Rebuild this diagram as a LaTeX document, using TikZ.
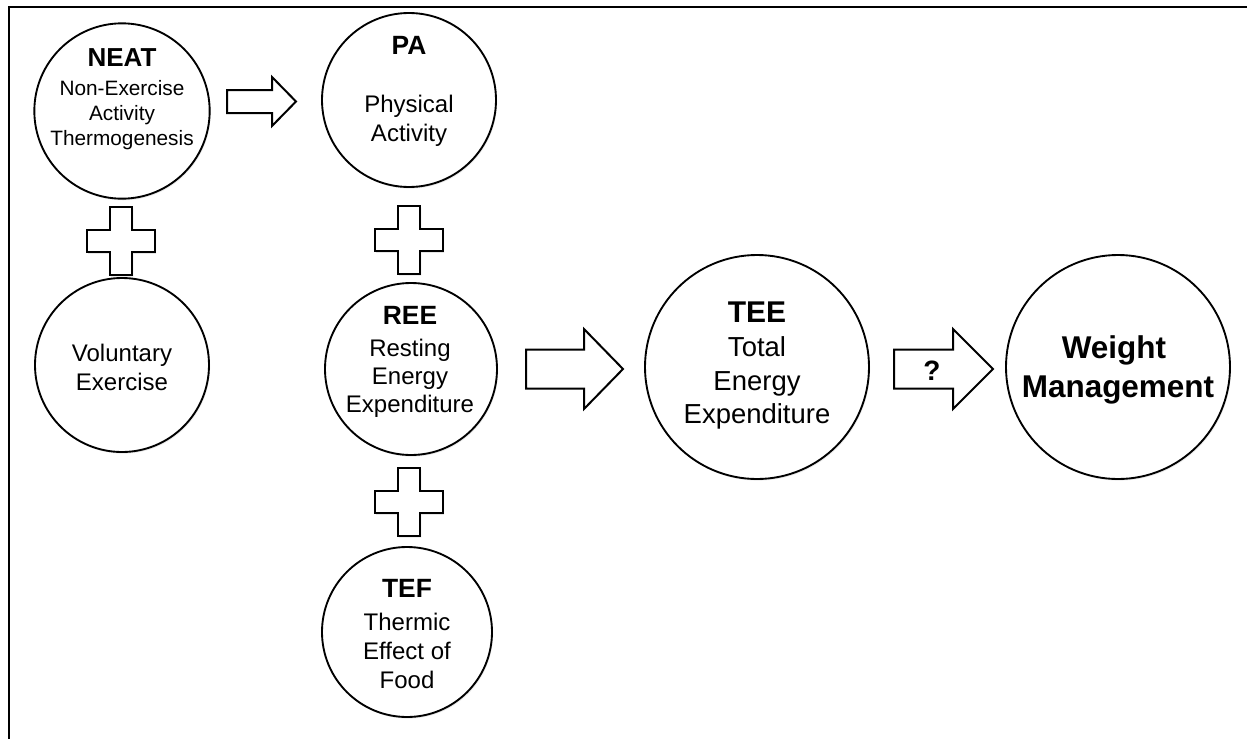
\documentclass[tikz,border=0pt]{standalone}
\usepackage{fontspec}
\setmainfont{Liberation Sans}
\usetikzlibrary{shadows}
\begin{document}
\begin{tikzpicture}[x=0.75pt,y=-0.75pt,
  circ/.style={circle,draw=black,line width=1.4pt,fill=white,inner sep=0pt,
    drop shadow={opacity=0.18,shadow xshift=0.8pt,shadow yshift=-1.2pt}},
  plusshape/.style={draw=black,line width=1.6pt,fill=white,line join=miter,
    drop shadow={opacity=0.2,shadow xshift=0.8pt,shadow yshift=-1.2pt}},
  blockarrow/.style={draw=black,line width=1.5pt,fill=white,line join=miter},
  tl/.style={anchor=base,inner sep=0pt},
  fA/.style={font=\fontsize{19.5pt}{21pt}\selectfont\bfseries},
  fa/.style={font=\fontsize{15.6pt}{18pt}\selectfont},
  fB/.style={font=\fontsize{19.8pt}{22pt}\selectfont\bfseries},
  fb/.style={font=\fontsize{18pt}{21pt}\selectfont},
  fC/.style={font=\fontsize{22.5pt}{25pt}\selectfont\bfseries},
  fc/.style={font=\fontsize{20.6pt}{23pt}\selectfont},
  fD/.style={font=\fontsize{23.6pt}{26pt}\selectfont\bfseries},
  fq/.style={font=\fontsize{21pt}{24pt}\selectfont\bfseries}
]
\useasboundingbox (0,0) rectangle (1247,739);
\fill[white] (0,0) rectangle (1247,739);
% frame
\coordinate (fbl) at (9,739);
\coordinate (ftl) at (9,7);
\coordinate (ftr) at (1247,7);
\draw[line width=1.9pt] (fbl) -- (ftl) -- (ftr);

% circles
\node[circ,minimum size=131.5pt] (neat) at (122,111) {};
\node[circ,minimum size=130.5pt] (pa) at (409,100) {};
\node[circ,minimum size=130.5pt] (vol) at (122,365) {};
\node[circ,minimum size=129pt] (ree) at (411,369) {};
\node[circ,minimum size=127.5pt] (tef) at (407,632) {};
\node[circ,minimum size=168pt] (tee) at (757,367) {};
\node[circ,minimum size=168pt] (wm) at (1118,367) {};

% texts
\node[tl,fA] (neat1) at (122,66) {NEAT};
\node[tl,fa] (neat2) at (122,95) {Non-Exercise};
\node[tl,fa] (neat3) at (122,120) {Activity};
\node[tl,fa] (neat4) at (122,145) {Thermogenesis};

\node[tl,fB] (pa1) at (409,54) {PA};
\node[tl,fb] (pa2) at (409,112) {Physical};
\node[tl,fb] (pa3) at (409,141) {Activity};

\node[tl,fb] (vol1) at (122,361) {Voluntary};
\node[tl,fb] (vol2) at (122,390) {Exercise};

\node[tl,fB] (ree1) at (410,324) {REE};
\node[tl,fb] (ree2) at (410,356) {Resting};
\node[tl,fb] (ree3) at (410,384) {Energy};
\node[tl,fb] (ree4) at (410,412) {Expenditure};

\node[tl,fB] (tef1) at (407,597) {TEF};
\node[tl,fb] (tef2) at (407,630) {Thermic};
\node[tl,fb] (tef3) at (407,659) {Effect of};
\node[tl,fb] (tef4) at (407,688) {Food};

\node[tl,fC] (tee1) at (757,322) {TEE};
\node[tl,fc] (tee2) at (757,356) {Total};
\node[tl,fc] (tee3) at (757,390) {Energy};
\node[tl,fc] (tee4) at (757,423) {Expenditure};

\node[tl,fD] (wm1) at (1114,358) {Weight};
\node[tl,fD] (wm2) at (1118,397) {Management};

% plus signs
\foreach \n/\cx/\cy in {p1/121/241, p2/409/240, p3/409/502}{
  \coordinate (\n) at (\cx,\cy);
  \draw[plusshape,shift={(\n)}]
    (-11.25,-34) -- (11.25,-34) -- (11.25,-11.25) -- (34,-11.25) -- (34,11.25)
    -- (11.25,11.25) -- (11.25,34) -- (-11.25,34) -- (-11.25,11.25) -- (-34,11.25)
    -- (-34,-11.25) -- (-11.25,-11.25) -- cycle;
}

% block arrows
\coordinate (a1) at (227,101.5);
\draw[blockarrow,shift={(a1)}]
  (0,-11.5) -- (45,-11.5) -- (45,-24.5) -- (69,0) -- (45,24.5) -- (45,11.5) -- (0,11.5) -- cycle;
\coordinate (a2) at (526,369);
\draw[blockarrow,shift={(a2)}]
  (0,-19.5) -- (58,-19.5) -- (58,-40) -- (97,0) -- (58,40) -- (58,19.5) -- (0,19.5) -- cycle;
\coordinate (a3) at (894,369);
\draw[blockarrow,shift={(a3)}]
  (0,-19.5) -- (59,-19.5) -- (59,-40) -- (99,0) -- (59,40) -- (59,19.5) -- (0,19.5) -- cycle;
\node[tl,fq] (q) at (932,380) {?};
\end{tikzpicture}
\end{document}
